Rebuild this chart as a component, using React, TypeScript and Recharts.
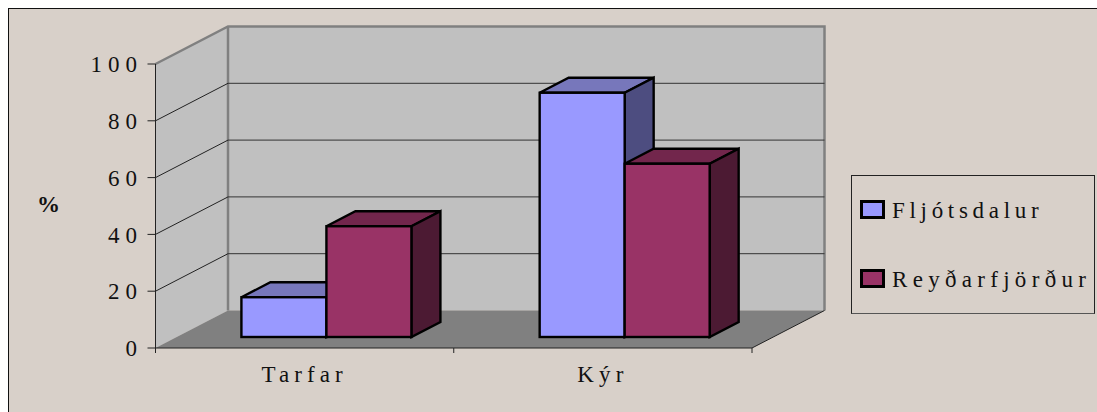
import { BarChart, Bar, XAxis, YAxis, CartesianGrid, Legend, usePlotArea } from "recharts"

const categories = ["Tarfar", "Kýr"]
const fljotsdalur = [14, 86]
const reydarfjordur = [39, 61]
const yTicks = [0, 20, 40, 60, 80, 100]

const seriesNames = ["Fljótsdalur", "Reyðarfjörður"]
const data = categories.map((name, i) => ({
  name,
  [seriesNames[0]]: fljotsdalur[i],
  [seriesNames[1]]: reydarfjordur[i],
}))

// depth of the fake 3D box
const DEPTH_X = 72.5
const DEPTH_Y = 37.5
// bars stand a bit inside the floor and are not as deep as it
const BAR_SHIFT_X = 22
const BAR_SHIFT_Y = 11
const BAR_DEPTH_X = 29
const BAR_DEPTH_Y = 15

const TOP = 56
const BOTTOM = 340
const FONT = "'Liberation Serif', serif"
const LEGEND_SPACING = [4.7, 5.3]

function Walls() {
  const plot = usePlotArea()
  if (!plot) return null
  const { x, y, width, height } = plot
  const b = y + height
  const r = x + width
  const step = width / categories.length
  return (
    <g>
      <polygon points={`${x},${b} ${x},${y} ${x + DEPTH_X},${y - DEPTH_Y} ${x + DEPTH_X},${b - DEPTH_Y}`} fill="#c0c0c0" />
      <rect x={x + DEPTH_X} y={y - DEPTH_Y} width={width} height={height} fill="#c0c0c0" />
      <polygon points={`${x},${b} ${r},${b} ${r + DEPTH_X},${b - DEPTH_Y} ${x + DEPTH_X},${b - DEPTH_Y}`} fill="#808080" />
      <path
        d={`M${x},${y} L${x + DEPTH_X},${y - DEPTH_Y} L${r + DEPTH_X},${y - DEPTH_Y} L${r + DEPTH_X},${b - DEPTH_Y} M${x + DEPTH_X},${y - DEPTH_Y} L${x + DEPTH_X},${b - DEPTH_Y}`}
        fill="none"
        stroke="#808080"
        strokeWidth={2.5}
      />
      <line x1={r} y1={b} x2={r + DEPTH_X} y2={b - DEPTH_Y} stroke="#222" strokeWidth={1} />
      {[0, 1, 2].map((i) => (
        <line key={i} x1={x + i * step} y1={b} x2={x + i * step} y2={b + 5} stroke="#222" strokeWidth={1} />
      ))}
    </g>
  )
}

function gridLine(props: any) {
  const { x1, y1, x2, key } = props
  if (y1 <= TOP || y1 >= BOTTOM) return <g key={key} />
  return (
    <g key={key}>
      <line x1={x1} y1={y1} x2={x1 + DEPTH_X} y2={y1 - DEPTH_Y} stroke="#222" strokeWidth={1} />
      <line x1={x1 + DEPTH_X} y1={y1 - DEPTH_Y} x2={x2 + DEPTH_X} y2={y1 - DEPTH_Y} stroke="#333" strokeWidth={1} />
    </g>
  )
}

function Box3D(props: any) {
  const { x, y, width, height, fill, topFill, sideFill } = props
  const l = x + BAR_SHIFT_X
  const t = y - BAR_SHIFT_Y
  const r = l + width
  const b = t + height
  const dx = BAR_DEPTH_X
  const dy = BAR_DEPTH_Y
  const edge = { stroke: "#000", strokeWidth: 2.4, strokeLinejoin: "miter" as const }
  return (
    <g>
      <polygon points={`${l},${t} ${r},${t} ${r + dx},${t - dy} ${l + dx},${t - dy}`} fill={topFill} {...edge} />
      <polygon points={`${r},${t} ${r + dx},${t - dy} ${r + dx},${b - dy} ${r},${b}`} fill={sideFill} {...edge} />
      <rect x={l} y={t} width={width} height={height} fill={fill} {...edge} />
    </g>
  )
}

function LegendBox({ payload }: any) {
  return (
    <div style={{ width: 244, height: 139, boxSizing: "border-box", border: "1px solid #222", borderBottomColor: "#555", fontFamily: FONT, fontSize: 23, color: "#111", position: "relative" }}>
      {(payload || []).map((p: any, i: number) => (
        <div key={p.value} style={{ position: "absolute", left: 8, top: 21 + i * 69, display: "flex", alignItems: "center", height: 24, whiteSpace: "nowrap", letterSpacing: LEGEND_SPACING[i] }}>
          <span style={{ boxSizing: "border-box", width: 25, height: 19, background: p.color, border: "3px solid #000", marginRight: 7 }} />
          <span style={{ position: "relative", top: 2 }}>{p.value}</span>
        </div>
      ))}
    </div>
  )
}

export default function App() {
  return (
    <div style={{ position: "absolute", left: 8, top: 8, width: 1089, height: 404, boxSizing: "border-box", background: "#d8d0c9", borderLeft: "1px solid #111", borderTop: "1px solid #111" }}>
      <div style={{ position: "absolute", left: -1, top: -1 }}>
        <BarChart
          width={1089}
          height={404}
          data={data}
          margin={{ top: TOP, right: 345, bottom: 9, left: 0 }}
          barGap={0}
          barCategoryGap="21.43%"
        >
          <Walls />
          <CartesianGrid vertical={false} horizontal={gridLine} zIndex={1} />
          <XAxis
            dataKey="name"
            axisLine={{ stroke: "#222" }}
            tickLine={false}
            height={55}
            tickMargin={12}
            tick={{ fontFamily: FONT, fontSize: 23, fill: "#111", letterSpacing: 5.1 }}
          />
          <YAxis
            width={147.5}
            domain={[0, 100]}
            ticks={yTicks}
            axisLine={{ stroke: "#222" }}
            tickLine={{ stroke: "#222" }}
            tickSize={8}
            tickMargin={4.5}
            tick={{ fontFamily: FONT, fontSize: 23, fill: "#111", letterSpacing: 6 }}
            label={{ value: "%", position: "insideLeft", offset: 29, dy: -2, style: { fontFamily: FONT, fontSize: 23, fontWeight: 700, fill: "#111" } }}
          />
          <Bar dataKey={seriesNames[0]} fill="#9999ff" isAnimationActive={false} shape={(p: any) => <Box3D {...p} topFill="#7777bb" sideFill="#4d4d80" />} />
          <Bar dataKey={seriesNames[1]} fill="#993366" isAnimationActive={false} shape={(p: any) => <Box3D {...p} topFill="#72264c" sideFill="#4c1a33" />} />
          <Legend layout="vertical" align="center" verticalAlign="middle" content={<LegendBox />} wrapperStyle={{ left: 843, top: 167, width: 244 }} />
        </BarChart>
      </div>
    </div>
  )
}
